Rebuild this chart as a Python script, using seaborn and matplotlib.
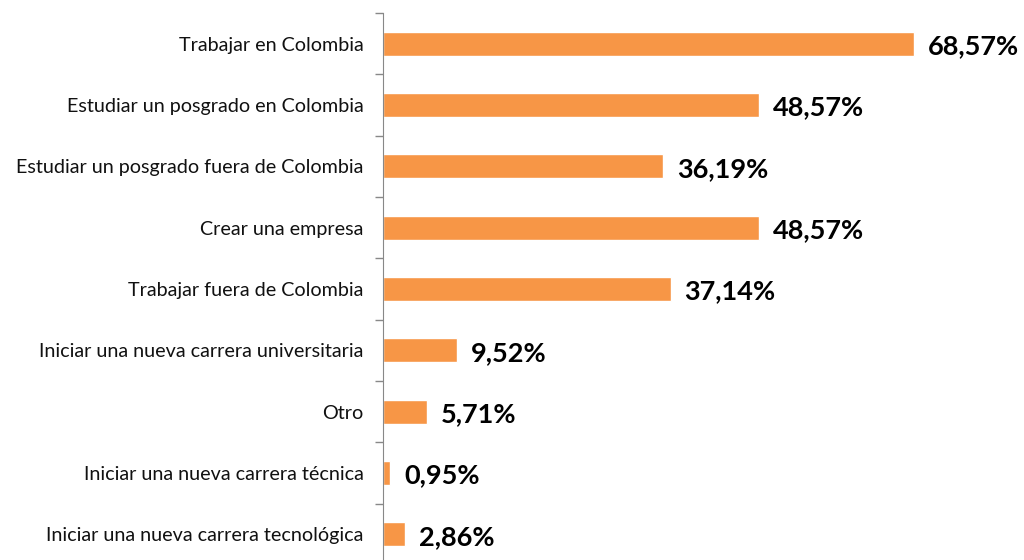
import seaborn as sns
import pandas as pd
import matplotlib.pyplot as plt
import numpy as np

categories = ["Trabajar en Colombia",
              "Estudiar un posgrado en Colombia",
              "Estudiar un posgrado fuera de Colombia",
              "Crear una empresa",
              "Trabajar fuera de Colombia",
              "Iniciar una nueva carrera universitaria",
              "Otro",
              "Iniciar una nueva carrera técnica",
              "Iniciar una nueva carrera tecnológica"]
values = [68.57, 48.57, 36.19, 48.57, 37.14, 9.52, 5.71, 0.95, 2.86]
value_labels = ["68,57%", "48,57%", "36,19%", "48,57%", "37,14%",
                "9,52%", "5,71%", "0,95%", "2,86%"]

df = pd.DataFrame({'categoria': categories, 'valor': values})

sns.set_style('white')
plt.rcParams['font.family'] = ['Lato', 'DejaVu Sans']

fig = plt.figure(figsize=(10.24, 5.6), dpi=100)
ax = fig.add_axes([383 / 1024, 1 - 565 / 560, 635 / 1024, 552 / 560])

sns.barplot(data=df, x='valor', y='categoria', color='#F79646',
            width=0.39, saturation=1, ax=ax)

ax.set_xlim(0, 82)
ax.set_ylim(len(categories) - 0.5, -0.5)
ax.set_xlabel('')
ax.set_ylabel('')
ax.set_xticks([])

# labels at centers, small tick marks between categories
ax.tick_params(axis='y', which='major', length=0, pad=14, labelsize=14.2, labelcolor='#111111')
ax.set_yticks(np.arange(len(categories) + 1) - 0.5, minor=True)
ax.tick_params(axis='y', which='minor', length=6, color='#888888', width=1, direction='out', left=True)

for s in ['top', 'right', 'bottom']:
    ax.spines[s].set_visible(False)
ax.spines['left'].set_color('#888888')

for i, (v, lab) in enumerate(zip(values, value_labels)):
    ax.text(v + 1.8, i + 0.04, lab, va='center', ha='left', fontsize=19.5,
            fontweight='bold', color='black')

fig.savefig('out.png', dpi=100)
